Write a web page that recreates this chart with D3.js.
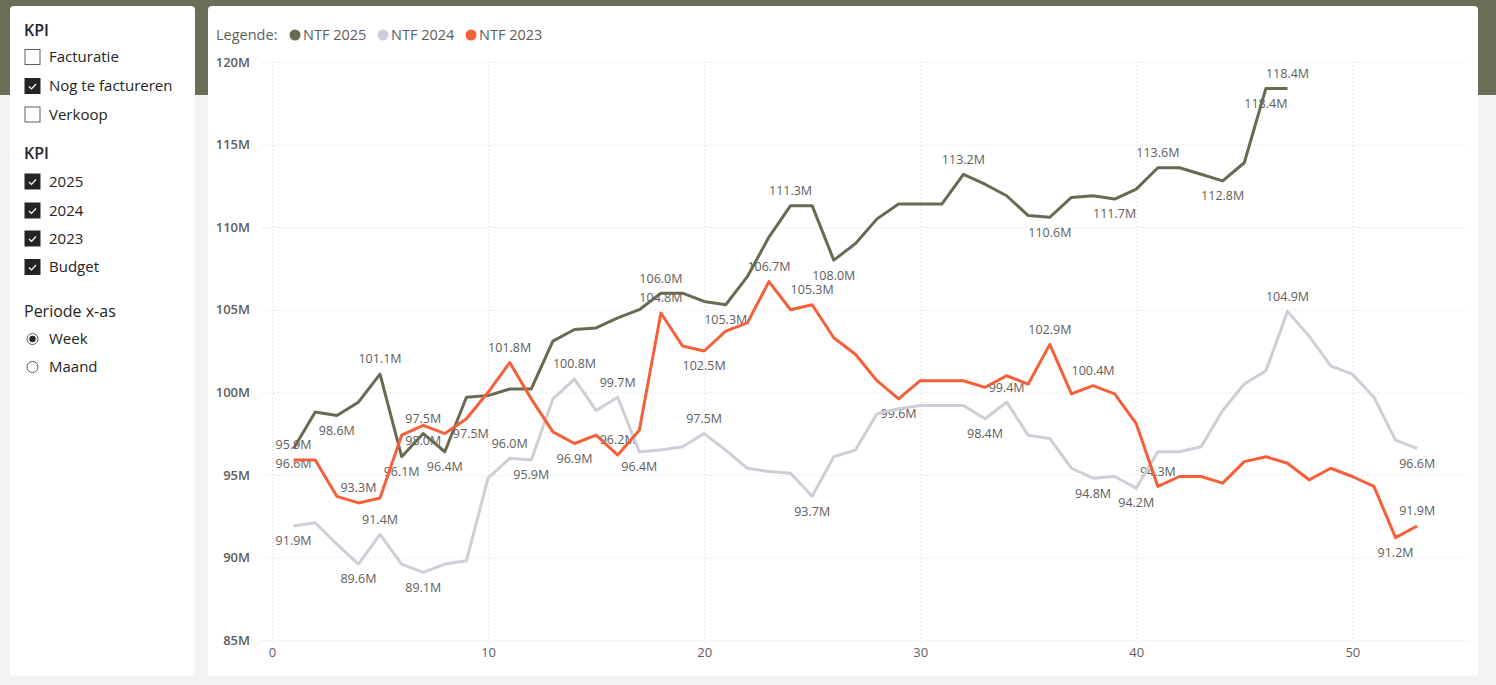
<!DOCTYPE html>
<html>
<head>
<meta charset="utf-8">
<script src="https://cdn.jsdelivr.net/npm/d3@7"></script>
<style>
  body { margin: 0; background: #f3f3f3; font-family: "Segoe UI", "Open Sans", sans-serif; }
  svg { display: block; }
</style>
</head>
<body>
<svg id="chart"></svg>
<script>
// week numbers on the x axis
const weeks = [1, 2, 3, 4, 5, 6, 7, 8, 9, 10, 11, 12, 13, 14, 15, 16, 17, 18, 19, 20,
  21, 22, 23, 24, 25, 26, 27, 28, 29, 30, 31, 32, 33, 34, 35, 36, 37, 38, 39, 40,
  41, 42, 43, 44, 45, 46, 47, 48, 49, 50, 51, 52, 53];

// Nog te factureren, in millions
const ntf2025 = [96.6, 98.8, 98.6, 99.4, 101.1, 96.1, 97.5, 96.4, 99.7, 99.8,
  100.2, 100.2, 103.1, 103.8, 103.9, 104.5, 105.0, 106.0, 106.0, 105.5,
  105.3, 107.0, 109.4, 111.3, 111.3, 108.0, 109.0, 110.5, 111.4, 111.4,
  111.4, 113.2, 112.6, 111.9, 110.7, 110.6, 111.8, 111.9, 111.7, 112.3,
  113.6, 113.6, 113.2, 112.8, 113.9, 118.4, 118.4];
const ntf2024 = [91.9, 92.1, 90.8, 89.6, 91.4, 89.6, 89.1, 89.6, 89.8, 94.8,
  96.0, 95.9, 99.6, 100.8, 98.9, 99.7, 96.4, 96.5, 96.7, 97.5,
  96.5, 95.4, 95.2, 95.1, 93.7, 96.1, 96.5, 98.7, 99.0, 99.2,
  99.2, 99.2, 98.4, 99.4, 97.4, 97.2, 95.4, 94.8, 94.9, 94.2,
  96.4, 96.4, 96.7, 98.9, 100.5, 101.3, 104.9, 103.4, 101.6, 101.1,
  99.7, 97.1, 96.6];
const ntf2023 = [95.9, 95.9, 93.7, 93.3, 93.6, 97.4, 98.0, 97.5, 98.4, 100.0,
  101.8, 99.6, 97.6, 96.9, 97.4, 96.2, 97.7, 104.8, 102.8, 102.5,
  103.7, 104.2, 106.7, 105.0, 105.3, 103.3, 102.3, 100.7, 99.6, 100.7,
  100.7, 100.7, 100.3, 101.0, 100.5, 102.9, 99.9, 100.4, 99.9, 98.1,
  94.3, 94.9, 94.9, 94.5, 95.8, 96.1, 95.7, 94.7, 95.4, 94.9,
  94.3, 91.2, 91.9];

// weeks that carry a data label
const labelsAbove2025 = [5, 7, 18, 24, 32, 41, 47];
const labelsBelow2025 = [1, 3, 6, 8, 21, 26, 36, 39, 44, 46];
const labelsAbove2024 = [5, 11, 14, 16, 20, 34, 47];
const labelsBelow2024 = [1, 4, 7, 12, 17, 25, 33, 38, 40, 53];
const labelsAbove2023 = [1, 4, 11, 16, 18, 23, 25, 36, 38, 41, 53];
const labelsBelow2023 = [7, 14, 20, 29, 52];
const labelsRight2023 = [8];

const seriesNames = ['NTF 2025', 'NTF 2024', 'NTF 2023'];
const colors = ['#686b52', '#cfcdd7', '#f5603a'];

const yTicks = [85, 90, 95, 100, 105, 110, 115, 120];
const xTicks = [0, 10, 20, 30, 40, 50];

const series = [
  { name: seriesNames[0], values: ntf2025, color: colors[0], above: labelsAbove2025, below: labelsBelow2025, right: [] },
  { name: seriesNames[1], values: ntf2024, color: colors[1], above: labelsAbove2024, below: labelsBelow2024, right: [] },
  { name: seriesNames[2], values: ntf2023, color: colors[2], above: labelsAbove2023, below: labelsBelow2023, right: labelsRight2023 }
];

const W = 1496, H = 685;
const svg = d3.select('#chart').attr('width', W).attr('height', H);

// page background + olive header band
svg.append('rect').attr('width', W).attr('height', H).attr('fill', '#f3f3f3');
svg.append('rect').attr('width', W).attr('height', 95).attr('fill', '#6b6e56');

// cards
svg.append('rect').attr('x', 10).attr('y', 6).attr('width', 185).attr('height', 670)
  .attr('rx', 4).attr('fill', '#fff');
svg.append('rect').attr('x', 208).attr('y', 6).attr('width', 1270).attr('height', 670)
  .attr('rx', 4).attr('fill', '#fff');

// ---- slicer panel ----
const panel = svg.append('g').style('font-size', '15px').attr('fill', '#252423');
const checkRows = [
  { text: 'Facturatie', y: 57, on: false },
  { text: 'Nog te factureren', y: 86, on: true },
  { text: 'Verkoop', y: 114.5, on: false },
  { text: '2025', y: 181.5, on: true },
  { text: '2024', y: 210.5, on: true },
  { text: '2023', y: 238.5, on: true },
  { text: 'Budget', y: 267, on: true }
];
panel.append('text').attr('x', 24).attr('y', 36).style('font-size', '16px').style('font-weight', 600).text('KPI');
panel.append('text').attr('x', 24).attr('y', 159).style('font-size', '16px').style('font-weight', 600).text('KPI');
panel.append('text').attr('x', 24).attr('y', 317).style('font-size', '16px').text('Periode x-as');

const rows = panel.selectAll('g.row').data(checkRows).enter().append('g')
  .attr('transform', d => `translate(0,${d.y})`);
rows.append('rect').attr('x', 25).attr('y', -7.5).attr('width', 15).attr('height', 15)
  .attr('fill', d => d.on ? '#252423' : '#fff')
  .attr('stroke', d => d.on ? '#252423' : '#605e5c').attr('stroke-width', 1);
rows.filter(d => d.on).append('path').attr('d', 'M29,0.5 L31.5,3 L36,-2')
  .attr('fill', 'none').attr('stroke', '#fff').attr('stroke-width', 1.2);
rows.append('text').attr('x', 49).attr('dy', '0.35em').text(d => d.text);

const radioRows = [{ text: 'Week', y: 339, on: true }, { text: 'Maand', y: 367, on: false }];
const radios = panel.selectAll('g.radio').data(radioRows).enter().append('g')
  .attr('transform', d => `translate(0,${d.y})`);
radios.append('circle').attr('cx', 32.5).attr('r', 5.5).attr('fill', '#fff')
  .attr('stroke', '#605e5c').attr('stroke-width', 1);
radios.filter(d => d.on).append('circle').attr('cx', 32.5).attr('r', 3.2).attr('fill', '#252423');
radios.append('text').attr('x', 49).attr('dy', '0.35em').text(d => d.text);

// ---- line chart ----
const xScale = d3.scaleLinear().domain([0, 55.4]).range([272, 1469]);
const yScale = d3.scaleLinear().domain([85, 120]).range([640, 62]);

// gridlines
const grid = svg.append('g').attr('stroke', '#d6d6d6').attr('stroke-width', 1)
  .attr('stroke-dasharray', '1,3');
grid.selectAll('line.h').data(yTicks).enter().append('line')
  .attr('x1', 262).attr('x2', 1469)
  .attr('y1', d => yScale(d) + 0.5).attr('y2', d => yScale(d) + 0.5);
grid.selectAll('line.v').data(xTicks).enter().append('line')
  .attr('x1', d => xScale(d) + 0.5).attr('x2', d => xScale(d) + 0.5)
  .attr('y1', 62).attr('y2', 645);

// axes
const yAxis = d3.axisLeft(yScale).tickValues(yTicks).tickFormat(d => d + 'M').tickSize(0).tickPadding(0);
const xAxis = d3.axisBottom(xScale).tickValues(xTicks).tickSize(0).tickPadding(0);

const gy = svg.append('g').attr('transform', 'translate(250,0)').call(yAxis);
const gx = svg.append('g').attr('transform', 'translate(0,648)').call(xAxis);
[gy, gx].forEach(g => {
  g.select('.domain').remove();
  g.selectAll('text').attr('fill', '#605e5c')
    .style('font-family', '"Segoe UI", "Open Sans", sans-serif')
    .style('font-size', '13px').style('font-weight', 600);
});
gx.selectAll('text').attr('dy', '0.71em').style('font-weight', 400);

// data labels (drawn under the lines, as in the report)
const labels = svg.append('g').attr('fill', '#605e5c').style('font-size', '12.5px')
  .attr('text-anchor', 'middle');
series.forEach(s => {
  const put = (list, dx, dy, anchor) => {
    list.forEach(w => {
      const v = s.values[w - 1];
      labels.append('text')
        .attr('x', xScale(w) + dx).attr('y', yScale(v) + dy)
        .attr('dy', '0.35em').attr('text-anchor', anchor)
        .text(v.toFixed(1) + 'M');
    });
  };
  put(s.above, 0, -15, 'middle');
  put(s.below, 0, 15, 'middle');
  put(s.right, 8, 0, 'start');
});

// lines
const line = d3.line()
  .x((d, i) => xScale(weeks[i]))
  .y(d => yScale(d));
svg.append('g').selectAll('path').data(series).enter().append('path')
  .attr('d', d => line(d.values))
  .attr('fill', 'none')
  .attr('stroke', d => d.color)
  .attr('stroke-width', 3)
  .attr('stroke-linejoin', 'round');

// legend
const legend = svg.append('g').attr('transform', 'translate(216,35)').style('font-size', '14.5px');
legend.append('text').attr('dy', '0.35em').attr('fill', '#605e5c').text('Legende:');
const legendX = [79, 167, 255];
const li = legend.selectAll('g.li').data(series).enter().append('g')
  .attr('transform', (d, i) => `translate(${legendX[i]},0)`);
li.append('circle').attr('r', 5.5).attr('fill', d => d.color);
li.append('text').attr('x', 8).attr('dy', '0.35em').attr('fill', '#605e5c').text(d => d.name);
</script>
</body>
</html>
